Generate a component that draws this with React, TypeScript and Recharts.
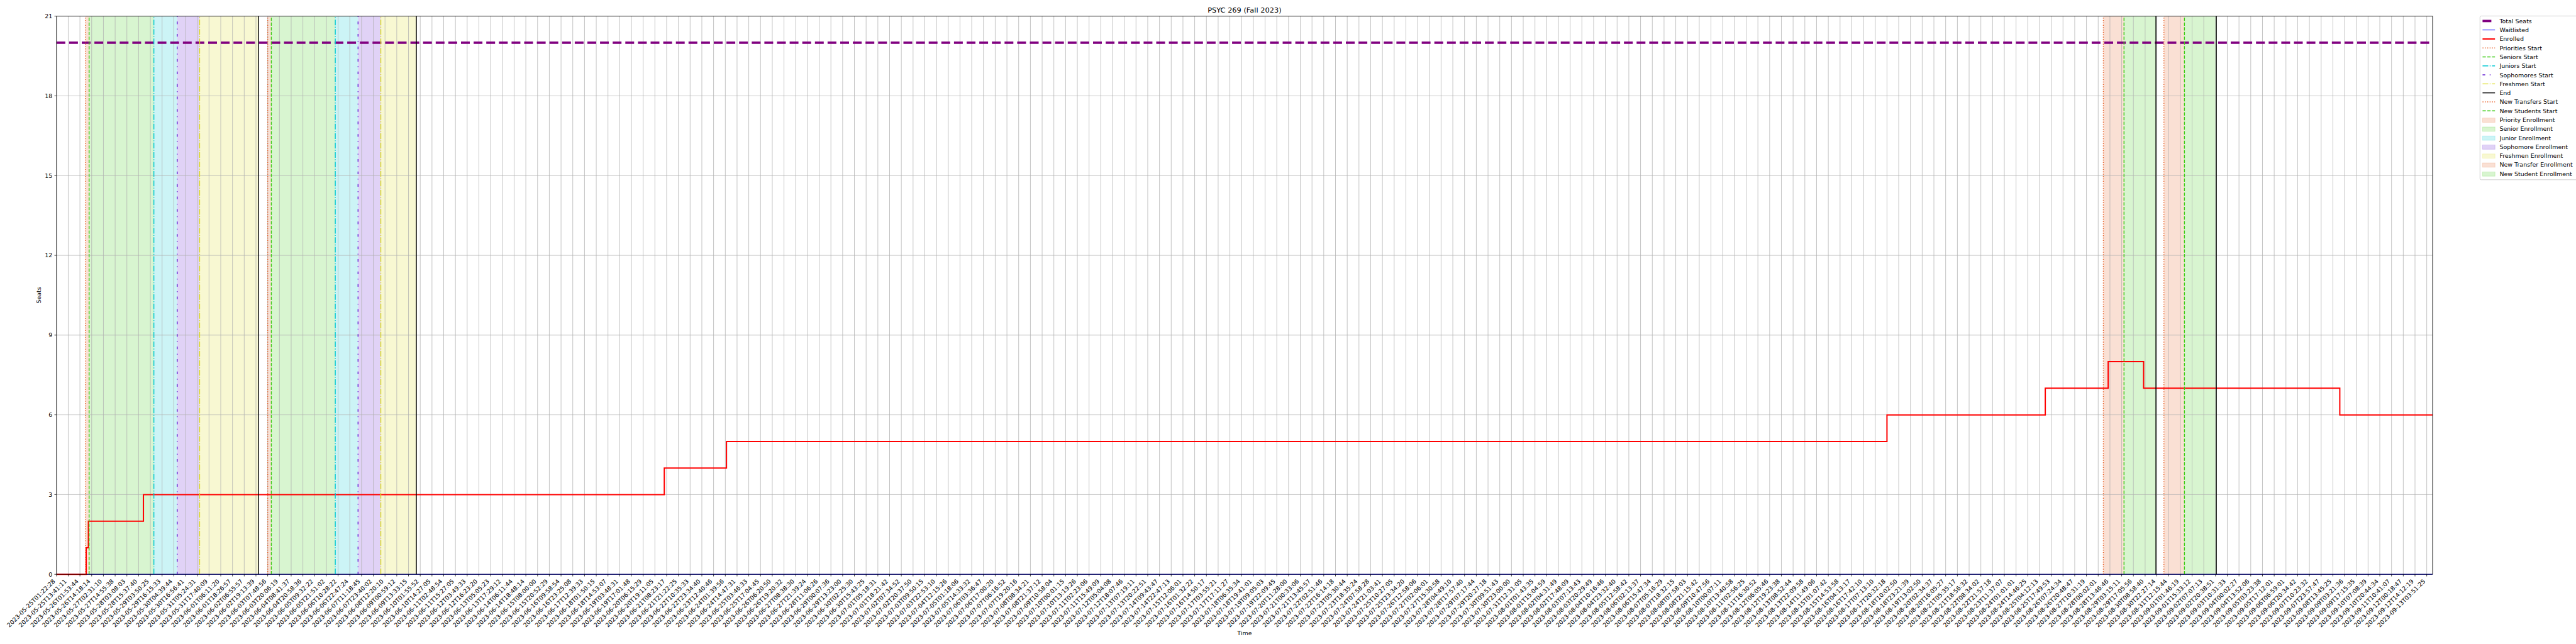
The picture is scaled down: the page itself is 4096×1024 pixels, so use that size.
import React from 'react';
import { ComposedChart, Line, XAxis, YAxis, CartesianGrid, ReferenceLine, ReferenceArea } from 'recharts';

// x tick labels (one per tick, ticks are evenly spaced)
const tickLabels = [
  '2023-05-25T01:22:28', '2023-05-25T13:41:11', '2023-05-26T01:53:44', '2023-05-26T14:18:14', '2023-05-27T02:31:10',
  '2023-05-27T14:55:38', '2023-05-28T03:08:03', '2023-05-28T15:37:40', '2023-05-29T03:50:25', '2023-05-29T16:15:33',
  '2023-05-30T04:39:44', '2023-05-30T16:56:41', '2023-05-31T05:24:31', '2023-05-31T17:40:09', '2023-06-01T06:11:20',
  '2023-06-01T18:26:57', '2023-06-02T06:55:57', '2023-06-02T19:13:39', '2023-06-03T07:48:56', '2023-06-03T20:06:19',
  '2023-06-04T08:41:37', '2023-06-04T20:58:36', '2023-06-05T09:32:22', '2023-06-05T21:51:02', '2023-06-06T10:28:22',
  '2023-06-06T22:47:24', '2023-06-07T11:18:45', '2023-06-07T23:40:02', '2023-06-08T12:20:10', '2023-06-09T00:59:12',
  '2023-06-09T13:33:15', '2023-06-10T01:55:52', '2023-06-10T14:27:05', '2023-06-11T02:48:54', '2023-06-11T15:27:05',
  '2023-06-12T03:49:33', '2023-06-12T16:23:20', '2023-06-13T05:05:23', '2023-06-13T17:29:12', '2023-06-14T06:11:44',
  '2023-06-14T18:48:14', '2023-06-15T08:00:00', '2023-06-15T20:52:29', '2023-06-16T09:58:54', '2023-06-16T23:25:08',
  '2023-06-17T12:39:33', '2023-06-18T01:50:15', '2023-06-18T14:53:07', '2023-06-19T03:48:31', '2023-06-19T17:01:48',
  '2023-06-20T06:15:29', '2023-06-20T19:11:05', '2023-06-21T08:23:17', '2023-06-21T21:22:25', '2023-06-22T10:35:33',
  '2023-06-22T23:34:40', '2023-06-23T12:40:46', '2023-06-24T01:39:56', '2023-06-24T14:47:31', '2023-06-25T03:46:33',
  '2023-06-25T17:04:45', '2023-06-26T06:20:50', '2023-06-26T19:20:32', '2023-06-27T08:38:30', '2023-06-27T21:39:24',
  '2023-06-28T11:06:26', '2023-06-29T00:07:36', '2023-06-29T13:23:00', '2023-06-30T02:25:30', '2023-06-30T15:43:25',
  '2023-07-01T05:18:31', '2023-07-01T18:21:42', '2023-07-02T07:34:52', '2023-07-02T20:37:50', '2023-07-03T09:50:15',
  '2023-07-03T22:53:10', '2023-07-04T12:15:26', '2023-07-05T01:18:06', '2023-07-05T14:33:32', '2023-07-06T03:36:47',
  '2023-07-06T17:00:20', '2023-07-07T06:16:52', '2023-07-07T19:20:16', '2023-07-08T08:34:21', '2023-07-08T21:37:12',
  '2023-07-09T10:58:04', '2023-07-10T00:01:15', '2023-07-10T13:19:26', '2023-07-11T02:23:06', '2023-07-11T15:49:09',
  '2023-07-12T05:04:08', '2023-07-12T18:07:46', '2023-07-13T07:19:11', '2023-07-13T20:22:51', '2023-07-14T09:43:47',
  '2023-07-14T22:47:13', '2023-07-15T12:06:01', '2023-07-16T01:32:22', '2023-07-16T14:50:17', '2023-07-17T03:55:21',
  '2023-07-17T17:11:27', '2023-07-18T06:35:34', '2023-07-18T19:41:01', '2023-07-19T09:05:03', '2023-07-19T22:09:45',
  '2023-07-20T11:28:00', '2023-07-21T00:33:06', '2023-07-21T13:45:57', '2023-07-22T02:51:46', '2023-07-22T16:14:18',
  '2023-07-23T05:30:44', '2023-07-23T18:35:24', '2023-07-24T07:58:28', '2023-07-24T21:03:41', '2023-07-25T10:27:05',
  '2023-07-25T23:34:20', '2023-07-26T12:58:06', '2023-07-27T02:06:01', '2023-07-27T15:30:58', '2023-07-28T04:49:10',
  '2023-07-28T17:57:40', '2023-07-29T07:17:44', '2023-07-29T20:27:18', '2023-07-30T09:51:43', '2023-07-30T23:00:00',
  '2023-07-31T12:31:05', '2023-08-01T01:43:35', '2023-08-01T15:04:59', '2023-08-02T04:31:49', '2023-08-02T17:48:09',
  '2023-08-03T07:13:43', '2023-08-03T20:29:49', '2023-08-04T10:16:46', '2023-08-04T23:32:40', '2023-08-05T12:58:42',
  '2023-08-06T02:13:37', '2023-08-06T15:47:34', '2023-08-07T05:16:29', '2023-08-07T18:32:15', '2023-08-08T07:58:03',
  '2023-08-08T21:15:42', '2023-08-09T10:47:56', '2023-08-10T00:07:11', '2023-08-10T13:40:58', '2023-08-11T02:56:25',
  '2023-08-11T16:30:52', '2023-08-12T06:05:46', '2023-08-12T19:23:38', '2023-08-13T08:52:44', '2023-08-13T22:09:58',
  '2023-08-14T11:49:06', '2023-08-15T01:07:42', '2023-08-15T14:53:58', '2023-08-16T04:13:17', '2023-08-16T17:42:10',
  '2023-08-17T07:13:10', '2023-08-17T20:32:18', '2023-08-18T10:02:50', '2023-08-18T23:21:39', '2023-08-19T13:02:50',
  '2023-08-20T02:34:37', '2023-08-20T16:05:27', '2023-08-21T05:35:17', '2023-08-21T18:56:32', '2023-08-22T08:34:02',
  '2023-08-22T21:57:18', '2023-08-23T11:37:07', '2023-08-24T01:01:01', '2023-08-24T14:46:25', '2023-08-25T04:12:13',
  '2023-08-25T17:49:53', '2023-08-26T07:24:34', '2023-08-26T20:48:47', '2023-08-27T10:31:19', '2023-08-28T00:02:01',
  '2023-08-28T13:46:46', '2023-08-29T03:15:11', '2023-08-29T17:05:56', '2023-08-30T08:58:40', '2023-08-30T22:27:14',
  '2023-08-31T12:15:44', '2023-09-01T01:46:19', '2023-09-01T15:33:12', '2023-09-02T07:07:13', '2023-09-02T20:38:51',
  '2023-09-03T10:31:33', '2023-09-04T00:02:27', '2023-09-04T13:52:06', '2023-09-05T03:23:38', '2023-09-05T17:12:01',
  '2023-09-06T06:59:01', '2023-09-06T20:34:42', '2023-09-07T10:23:32', '2023-09-07T23:57:47', '2023-09-08T13:45:25',
  '2023-09-09T03:21:36', '2023-09-09T17:15:35', '2023-09-10T07:08:39', '2023-09-10T20:44:34', '2023-09-11T10:41:07',
  '2023-09-12T00:18:47', '2023-09-12T14:12:19', '2023-09-13T03:51:25',
];

// series, x measured in tick positions
const stepX = [0, 2.53, 2.72, 7.41, 51.8, 57.1, 156.0, 169.49, 174.85, 177.87, 194.59, 202.5];
const enrolled = [0, 1, 2, 3, 4, 5, 6, 7, 8, 7, 6, 6];
const waitlisted = [0, 0, 0, 0, 0, 0, 0, 0, 0, 0, 0, 0];
const totalSeats = [20, 20, 20, 20, 20, 20, 20, 20, 20, 20, 20, 20];

const yTicks = [0, 3, 6, 9, 12, 15, 18, 21];

// enrollment windows
const prioritiesStart = [2.47, 18.0];
const seniorsStart = [2.78, 18.31];
const juniorsStart = [8.3, 23.76];
const sophomoresStart = [10.29, 25.7];
const freshmenStart = [12.2, 27.64];
const endTimes = [17.22, 30.67, 178.92, 184.07];
const newTransfersStart = [174.44, 179.6];
const newStudentsStart = [176.2, 181.35];

const C = {
  total: '#800080',
  waitlisted: '#0000ff',
  enrolled: '#ff0000',
  priority: '#e8622a',
  senior: '#3ccc14',
  junior: '#00c8d2',
  soph: '#6420d2',
  fresh: '#dcdc1e',
  end: '#000000',
};

const DOT = '1.42 2.34';
const DASH = '5.25 2.27';
const DASHDOT = '9.09 2.27 1.42 2.27';
const SOPHDASH = '4.26 7.1 1.42 7.1';
const VLW = 1.42;
const FONT = 'DejaVu Sans';
const FS = 9.47;

const rows = stepX.map((x, i) => ({ x, enrolled: enrolled[i], waitlisted: waitlisted[i], totalSeats: totalSeats[i] }));
const tickPositions = tickLabels.map((_, i) => i);

const spans = [
  ...prioritiesStart.map((s, i) => ({ x1: s, x2: seniorsStart[i], color: C.priority })),
  ...seniorsStart.map((s, i) => ({ x1: s, x2: juniorsStart[i], color: C.senior })),
  ...juniorsStart.map((s, i) => ({ x1: s, x2: sophomoresStart[i], color: C.junior })),
  ...sophomoresStart.map((s, i) => ({ x1: s, x2: freshmenStart[i], color: C.soph })),
  ...freshmenStart.map((s, i) => ({ x1: s, x2: endTimes[i], color: C.fresh })),
  ...newTransfersStart.map((s, i) => ({ x1: s, x2: newStudentsStart[i], color: C.priority })),
  ...newStudentsStart.map((s, i) => ({ x1: s, x2: endTimes[2 + i], color: C.senior })),
];

const vlines = [
  ...prioritiesStart.map((x) => ({ x, color: C.priority, dash: DOT })),
  ...seniorsStart.map((x) => ({ x, color: C.senior, dash: DASH })),
  ...juniorsStart.map((x) => ({ x, color: C.junior, dash: DASHDOT })),
  ...sophomoresStart.map((x) => ({ x, color: C.soph, dash: SOPHDASH })),
  ...freshmenStart.map((x) => ({ x, color: C.fresh, dash: DASHDOT })),
  ...endTimes.map((x) => ({ x, color: C.end, dash: undefined as string | undefined })),
  ...newTransfersStart.map((x) => ({ x, color: C.priority, dash: DOT })),
  ...newStudentsStart.map((x) => ({ x, color: C.senior, dash: DASH })),
];

type LegendItem = { label: string; kind: 'line' | 'patch'; color: string; width?: number; dash?: string };
const legendItems: LegendItem[] = [
  { label: 'Total Seats', kind: 'line', color: C.total, width: 3.79, dash: '14 6.1' },
  { label: 'Waitlisted', kind: 'line', color: C.waitlisted, width: 0.95 },
  { label: 'Enrolled', kind: 'line', color: C.enrolled, width: 2 },
  { label: 'Priorities Start', kind: 'line', color: C.priority, width: VLW, dash: DOT },
  { label: 'Seniors Start', kind: 'line', color: C.senior, width: VLW, dash: DASH },
  { label: 'Juniors Start', kind: 'line', color: C.junior, width: VLW, dash: DASHDOT },
  { label: 'Sophomores Start', kind: 'line', color: C.soph, width: VLW, dash: SOPHDASH },
  { label: 'Freshmen Start', kind: 'line', color: C.fresh, width: VLW, dash: DASHDOT },
  { label: 'End', kind: 'line', color: C.end, width: VLW },
  { label: 'New Transfers Start', kind: 'line', color: C.priority, width: VLW, dash: DOT },
  { label: 'New Students Start', kind: 'line', color: C.senior, width: VLW, dash: DASH },
  { label: 'Priority Enrollment', kind: 'patch', color: C.priority },
  { label: 'Senior Enrollment', kind: 'patch', color: C.senior },
  { label: 'Junior Enrollment', kind: 'patch', color: C.junior },
  { label: 'Sophomore Enrollment', kind: 'patch', color: C.soph },
  { label: 'Freshmen Enrollment', kind: 'patch', color: C.fresh },
  { label: 'New Transfer Enrollment', kind: 'patch', color: C.priority },
  { label: 'New Student Enrollment', kind: 'patch', color: C.senior },
];

const DateTick = (props: any) => {
  const { x, y, payload } = props;
  const label = tickLabels[payload.value] ?? '';
  const ax = x - 1.6;
  const ay = y + 5.1;
  return (
    <text x={ax} y={ay} transform={`rotate(-45 ${ax} ${ay})`} textAnchor="end" fontSize={FS} fontFamily={FONT} fill="#000">
      {label}
    </text>
  );
};

const W = 4096;
const H = 1024;
const PLOT = { left: 89.8, right: 3868, top: 25.7, bottom: 913.2 };

const Overlay = () => {
  const lx = 3943.3;
  const ly = 25.4;
  const row0 = 33.4;
  const rowStep = 14.28;
  const hx0 = 3947.4;
  const hx1 = 3967.2;
  const tx = 3974.4;
  const cx = (PLOT.left + PLOT.right) / 2;
  return (
    <svg width={W} height={H} style={{ position: 'absolute', left: 0, top: 0, pointerEvents: 'none' }}>
      <text x={cx} y={20} textAnchor="middle" fontSize={11.37} fontFamily={FONT} fill="#000">PSYC 269 (Fall 2023)</text>
      <text x={cx} y={1009.5} textAnchor="middle" fontSize={FS} fontFamily={FONT} fill="#000">Time</text>
      <text x={65} y={(PLOT.top + PLOT.bottom) / 2} transform={`rotate(-90 65 ${(PLOT.top + PLOT.bottom) / 2})`} textAnchor="middle" fontSize={FS} fontFamily={FONT} fill="#000">Seats</text>
      <rect x={lx} y={ly} width={170} height={260.4} rx={2} fill="#fff" fillOpacity={0.8} stroke="#cccccc" strokeWidth={0.95} />
      {legendItems.map((it, i) => {
        const cy = row0 + rowStep * i;
        return (
          <g key={it.label}>
            {it.kind === 'line' ? (
              <line x1={hx0} x2={hx1} y1={cy} y2={cy} stroke={it.color} strokeWidth={it.width} strokeDasharray={it.dash} />
            ) : (
              <rect x={hx0} y={cy - 3.4 + 0.6} width={hx1 - hx0} height={6.8} fill={it.color} fillOpacity={0.2} stroke={it.color} strokeOpacity={0.2} strokeWidth={0.95} />
            )}
            <text x={tx} y={cy} dominantBaseline="central" fontSize={FS} fontFamily={FONT} fill="#000">{it.label}</text>
          </g>
        );
      })}
    </svg>
  );
};

export default function App() {
  return (
    <div style={{ position: 'absolute', left: 0, top: 0, width: W, height: H, background: '#fff', fontFamily: FONT }}>
      <ComposedChart width={W} height={H} data={rows} margin={{ top: PLOT.top, right: W - PLOT.right, left: 0, bottom: 0 }}>
        {spans.map((s, i) => (
          <ReferenceArea key={`span-${i}`} x1={s.x1} x2={s.x2} fill={s.color} fillOpacity={0.2} stroke="none" zIndex={-150} />
        ))}
        <CartesianGrid stroke="#b0b0b0" strokeWidth={0.76} />
        <XAxis
          dataKey="x"
          type="number"
          domain={[stepX[0], stepX[stepX.length - 1]]}
          allowDataOverflow
          ticks={tickPositions}
          interval={0}
          tick={(p: any) => <DateTick {...p} />}
          tickSize={3.3}
          tickMargin={3.3}
          height={H - PLOT.bottom}
          axisLine={{ stroke: '#000', strokeWidth: 0.76 }}
          tickLine={{ stroke: '#000', strokeWidth: 0.76 }}
        />
        <YAxis
          type="number"
          domain={[yTicks[0], yTicks[yTicks.length - 1]]}
          ticks={yTicks}
          interval={0}
          width={PLOT.left}
          tickSize={3.3}
          tickMargin={3.3}
          tick={{ fontSize: FS, fill: '#000', fontFamily: FONT }}
          axisLine={{ stroke: '#000', strokeWidth: 0.76 }}
          tickLine={{ stroke: '#000', strokeWidth: 0.76 }}
        />
        <Line type="linear" dataKey="totalSeats" stroke={C.total} strokeWidth={3.79} strokeDasharray="14 6.1" dot={false} activeDot={false} isAnimationActive={false} />
        <Line type="stepAfter" dataKey="waitlisted" stroke={C.waitlisted} strokeWidth={0.95} dot={false} activeDot={false} isAnimationActive={false} />
        <Line type="stepAfter" dataKey="enrolled" stroke={C.enrolled} strokeWidth={2} dot={false} activeDot={false} isAnimationActive={false} />
        {vlines.map((v, i) => (
          <ReferenceLine key={`vl-${i}`} x={v.x} stroke={v.color} strokeWidth={VLW} strokeDasharray={v.dash} zIndex={450} />
        ))}
        <ReferenceLine y={yTicks[yTicks.length - 1]} stroke="#000" strokeWidth={0.76} zIndex={500} />
        <ReferenceLine x={stepX[stepX.length - 1]} stroke="#000" strokeWidth={0.76} zIndex={500} />
      </ComposedChart>
      <Overlay />
    </div>
  );
}
